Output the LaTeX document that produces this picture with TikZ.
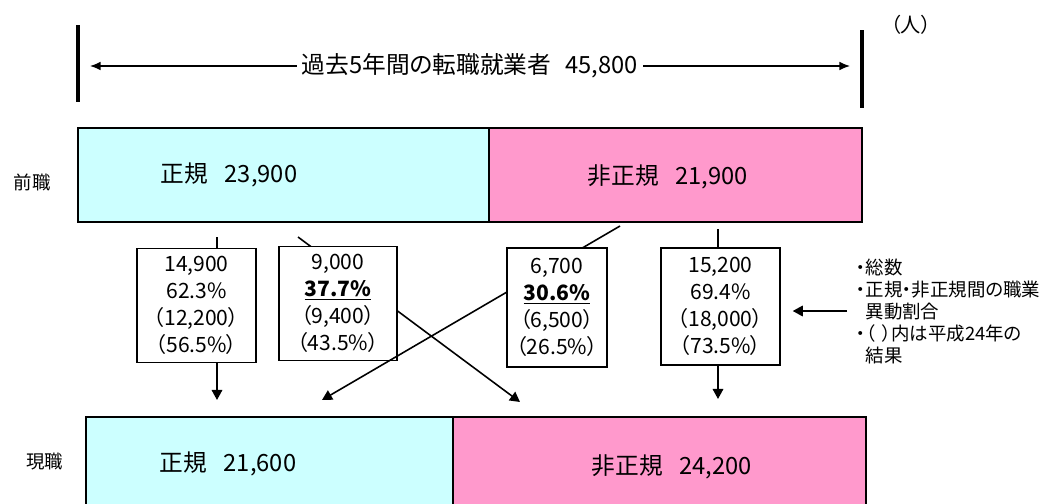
\documentclass[tikz,border=0pt]{standalone}
\usepackage{fontspec}
\setmainfont{Noto Sans CJK JP}[RawFeature=+palt]
\usepackage{tikz}
\usetikzlibrary{arrows.meta,calc}

\definecolor{regularcyan}{HTML}{CCFFFF}
\definecolor{irregularpink}{HTML}{FF99CC}

\begin{document}
\begin{tikzpicture}[x=0.02cm,y=-0.02cm,
	bar/.style={draw=black,line width=1pt},
	barlabel/.style={inner sep=0pt,font=\fontsize{13.5}{16}\selectfont},
	sidelabel/.style={inner sep=0pt,font=\fontsize{10.5}{12.5}\selectfont},
	flowbox/.style={draw=black,line width=0.85pt,fill=white,align=center,inner sep=0pt,
		font=\fontsize{12}{15.3}\selectfont},
	flow/.style={line width=0.9pt},
	flowarrow/.style={flow,-{Triangle[length=5.7pt,width=6pt]}}]
	\newcommand{\prevTop}{128}
	\newcommand{\prevBottom}{222}
	\newcommand{\curTop}{417}
	\newcommand{\curBottom}{510}

	\useasboundingbox (0,0) rectangle (1046,504);
	\clip (0,0) rectangle (1046,504);

	% total bracket
	\coordinate (total_left_top) at (78,25);
	\coordinate (total_left_bottom) at (78,102);
	\coordinate (total_right_top) at (862,30);
	\coordinate (total_right_bottom) at (862,108);
	\draw[line width=2.2pt] (total_left_top) -- (total_left_bottom);
	\draw[line width=2.2pt] (total_right_top) -- (total_right_bottom);
	\coordinate (total_left) at (90,66);
	\coordinate (total_right) at (850,66);
	\draw[line width=0.9pt,{Latex[length=6pt,width=5pt]}-{Latex[length=6pt,width=5pt]}]
		(total_left) -- (total_right)
		node[midway,fill=white,inner sep=3pt,font=\fontsize{13.5}{16}\selectfont] (total)
		{過去5年間の転職就業者\hspace{0.6em}45,800};
	\node[inner sep=0pt,font=\fontsize{11.5}{13}\selectfont] (unit) at (911,25) {（人）};

	% previous job
	\draw[bar,fill=regularcyan] (78,\prevTop) rectangle (489,\prevBottom);
	\draw[bar,fill=irregularpink] (489,\prevTop) rectangle (862,\prevBottom);
	\node[barlabel] (prev_regular) at (229,175) {正規\hspace{0.7em}23,900};
	\node[barlabel] (prev_irregular) at (668,177) {非正規\hspace{0.7em}21,900};
	\node[sidelabel] (prev_job) at (32,182) {前職};

	% current job
	\draw[bar,fill=regularcyan] (86,\curTop) rectangle (453,\curBottom);
	\draw[bar,fill=irregularpink] (453,\curTop) rectangle (866,\curBottom);
	\node[barlabel] (cur_regular) at (228,464) {正規\hspace{0.7em}21,600};
	\node[barlabel] (cur_irregular) at (672,467) {非正規\hspace{0.7em}24,200};
	\node[sidelabel] (cur_job) at (45,462) {現職};

	% flow ends
	\coordinate (stay_regular_top) at (217,237);
	\coordinate (stay_regular_end) at (217,400);
	\coordinate (to_irregular_top) at (298,237);
	\coordinate (to_irregular_end) at (520,402);
	\coordinate (to_regular_top) at (620,226);
	\coordinate (to_regular_end) at (322,400);
	\coordinate (stay_irregular_top) at (718,229);
	\coordinate (stay_irregular_end) at (718,399);

	% crossing flows (lines run behind the boxes)
	\draw[flowarrow] (to_irregular_top) -- (to_irregular_end);
	\node[flowbox,minimum width=2.36cm,minimum height=2.28cm] (to_irregular) at (338,303.5)
		{9,000\\\underline{\textbf{37.7\%}}\\（9,400）\\（43.5\%）};
	\draw[flowarrow] (to_regular_top) -- (to_regular_end);
	\node[flowbox,minimum width=2cm,minimum height=2.38cm] (to_regular) at (557,307.5)
		{6,700\\\underline{\textbf{30.6\%}}\\（6,500）\\（26.5\%）};

	% straight flows
	\node[flowbox,minimum width=2.38cm,minimum height=2.28cm] (stay_regular) at (196.5,305.5)
		{14,900\\62.3\%\\（12,200）\\（56.5\%）};
	\draw[flow] (stay_regular_top) -- (stay_regular_top |- stay_regular.north);
	\draw[flowarrow] (stay_regular_top |- stay_regular.south) -- (stay_regular_end);
	\node[flowbox,minimum width=2.38cm,minimum height=2.34cm] (stay_irregular) at (720.5,306.5)
		{15,200\\69.4\%\\（18,000）\\（73.5\%）};
	\draw[flow] (stay_irregular_top) -- (stay_irregular_top |- stay_irregular.north);
	\draw[flowarrow] (stay_irregular_top |- stay_irregular.south) -- (stay_irregular_end);

	% note
	\node[sidelabel,anchor=north west,align=left] (note) at (856,259)
		{・総数\\・正規・非正規間の職業\\\phantom{・}異動割合\\・（\hspace{0.4em}）内は平成24年の\\\phantom{・}結果};
	\coordinate (note_arrow) at (847,311);
	\draw[flowarrow,shorten >=0.24cm] (note_arrow) -- (note_arrow -| stay_irregular.east);
\end{tikzpicture}
\end{document}
